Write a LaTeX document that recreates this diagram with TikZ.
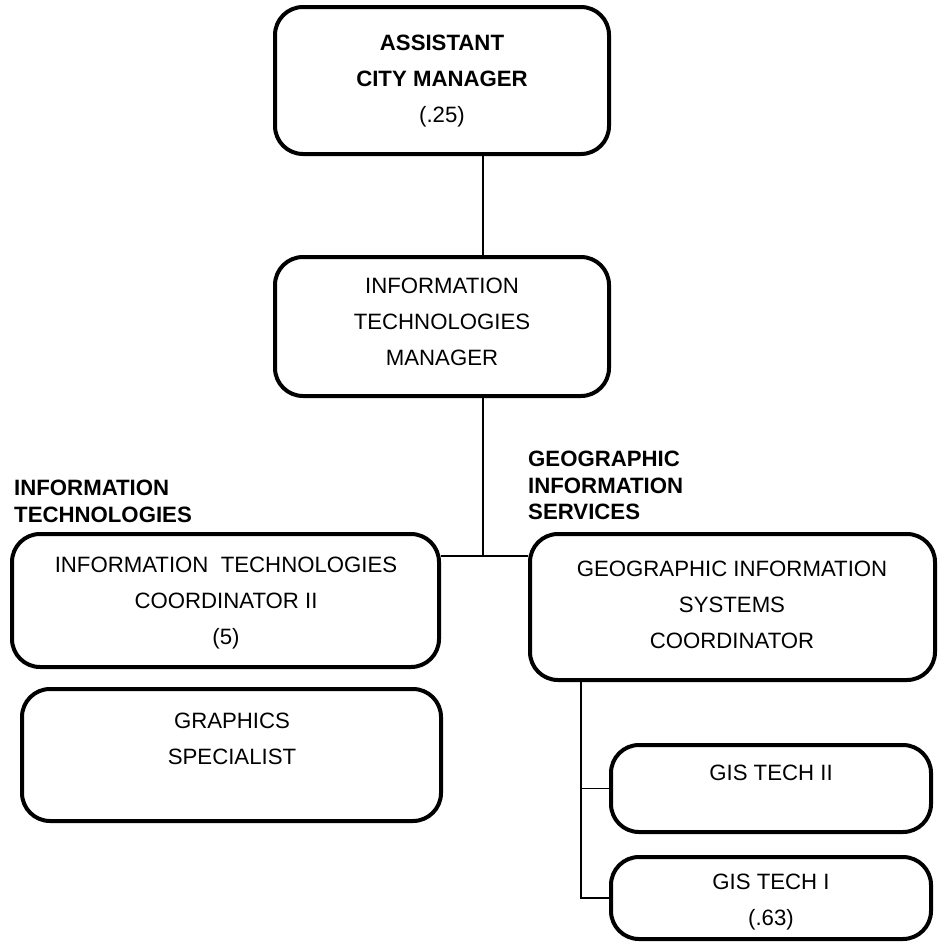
\documentclass[tikz,border=0pt]{standalone}
\usepackage{fontspec}
\setmainfont{Liberation Sans}
\begin{document}
\begin{tikzpicture}[x=1pt,y=-1pt,
  box/.style={draw, line width=4pt, rounded corners=28pt, inner sep=0pt},
  boxtext/.style={align=center, font=\fontsize{22.2}{36}\selectfont, inner sep=0pt},
  unit/.style={align=left, anchor=north west, font=\fontsize{22.2}{26.5}\selectfont\bfseries, inner sep=0pt},
  link/.style={line width=1.3pt}]
\useasboundingbox (0,0) rectangle (940,945);

% boxes
\node[box, minimum width=334pt, minimum height=147pt] (acm) at (442,80.5) {};
\node[box, minimum width=334pt, minimum height=139pt] (itm) at (442,326.5) {};
\node[box, minimum width=427pt, minimum height=133pt] (itc) at (225.5,600.5) {};
\node[box, minimum width=405pt, minimum height=146pt] (gisc) at (732.5,607) {};
\node[box, minimum width=419pt, minimum height=132pt] (gs) at (231.5,755) {};
\node[box, minimum width=320pt, minimum height=87pt] (t2) at (771,788.5) {};
\node[box, minimum width=320pt, minimum height=82pt] (t1) at (771,898) {};

% box texts
\node[boxtext] (acmt) at (442,81) {\textbf{ASSISTANT}\\\textbf{CITY MANAGER}\\(.25)};
\node[boxtext] (itmt) at (442,322) {INFORMATION\\TECHNOLOGIES\\MANAGER};
\node[boxtext] (itct) at (226,603) {INFORMATION\ \ TECHNOLOGIES\\COORDINATOR II\\(5)};
\node[boxtext] (gisct) at (732,605) {GEOGRAPHIC INFORMATION\\SYSTEMS\\COORDINATOR};
\node[boxtext] (gst) at (232,739) {GRAPHICS\\SPECIALIST};
\node[boxtext] (t2t) at (771,773) {GIS TECH II};
\node[boxtext] (t1t) at (771,902) {GIS TECH I\\(.63)};

% unit headings
\node[unit] (itlab) at (14,480) {INFORMATION\\TECHNOLOGIES};
\node[unit] (gislab) at (528,451) {GEOGRAPHIC\\INFORMATION\\SERVICES};

% connectors
\coordinate (jct) at (483,556);
\coordinate (gx) at (581,0);
\draw[link] (acm.south -| jct) -- (itm.north -| jct);
\draw[link] (itm.south -| jct) -- (jct);
\draw[link] (itc.east |- jct) -- (gisc.west |- jct);
\draw[link] (gisc.south -| gx) -- (gx |- t1.west) -- (t1.west);
\draw[link] (gx |- t2.west) -- (t2.west);
\end{tikzpicture}
\end{document}
